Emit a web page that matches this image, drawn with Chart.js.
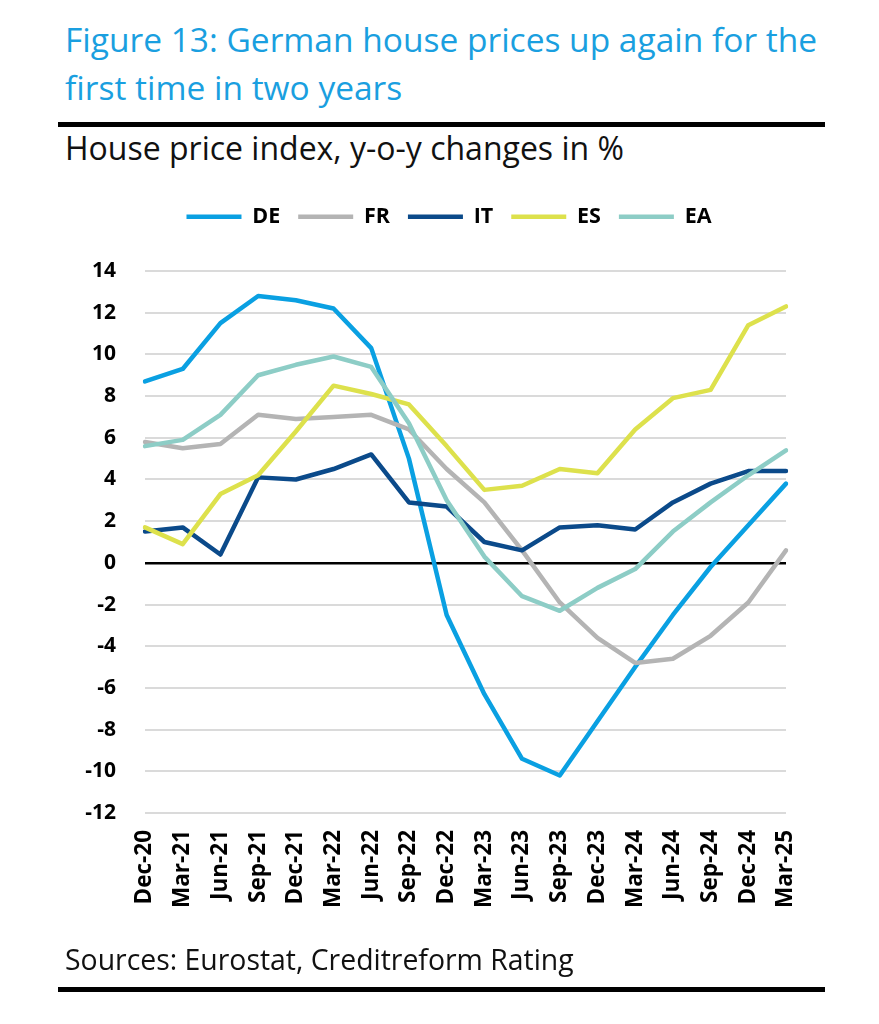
<!DOCTYPE html>
<html>
<head>
<meta charset="utf-8">
<script src="https://cdn.jsdelivr.net/npm/chart.js@4.4.1/dist/chart.umd.min.js"></script>
<style>
  html, body { margin: 0; padding: 0; background: #fff; }
  body { width: 879px; height: 1024px; position: relative; overflow: hidden; font-family: 'Open Sans', sans-serif; }
  .t { position: absolute; white-space: nowrap; }
  #title { left: 65px; top: 15px; font-size: 33.5px; line-height: 48px; color: #1a9fe0; }
  #subtitle { left: 65px; top: 130px; font-size: 32px; line-height: 36px; color: #111; }
  #source { left: 65px; top: 942px; font-size: 28.4px; line-height: 34px; color: #111; }
  .rule { position: absolute; left: 58px; width: 767px; height: 5px; background: #000; }
  #chartWrap { position: absolute; left: 0; top: 0; width: 879px; height: 1024px; }
</style>
</head>
<body>
<div id="title" class="t">Figure 13: German house prices up again for the<br>first time in two years</div>
<div class="rule" style="top:122px"></div>
<div id="subtitle" class="t">House price index, y-o-y changes in %</div>
<div id="chartWrap"><canvas id="c" width="879" height="1024"></canvas></div>
<div id="source" class="t">Sources: Eurostat, Creditreform Rating</div>
<div class="rule" style="top:987px"></div>
<script>
const categories = ['Dec-20','Mar-21','Jun-21','Sep-21','Dec-21','Mar-22','Jun-22','Sep-22','Dec-22','Mar-23','Jun-23','Sep-23','Dec-23','Mar-24','Jun-24','Sep-24','Dec-24','Mar-25'];
const seriesNames = ['DE','FR','IT','ES','EA'];
const DE = [8.7, 9.3, 11.5, 12.8, 12.6, 12.2, 10.3, 5.0, -2.5, -6.3, -9.4, -10.2, -7.6, -5.0, -2.5, -0.2, 1.8, 3.8];
const FR = [5.8, 5.5, 5.7, 7.1, 6.9, 7.0, 7.1, 6.4, 4.5, 2.9, 0.6, -1.9, -3.6, -4.8, -4.6, -3.5, -1.9, 0.6];
const IT = [1.5, 1.7, 0.4, 4.1, 4.0, 4.5, 5.2, 2.9, 2.7, 1.0, 0.6, 1.7, 1.8, 1.6, 2.9, 3.8, 4.4, 4.4];
const ES = [1.7, 0.9, 3.3, 4.2, 6.3, 8.5, 8.1, 7.6, 5.6, 3.5, 3.7, 4.5, 4.3, 6.4, 7.9, 8.3, 11.4, 12.3];
const EA = [5.6, 5.9, 7.1, 9.0, 9.5, 9.9, 9.4, 6.7, 3.0, 0.3, -1.6, -2.3, -1.2, -0.3, 1.5, 2.9, 4.2, 5.4];
const yTicks = [-12, -10, -8, -6, -4, -2, 0, 2, 4, 6, 8, 10, 12, 14];

const colors = ['#0aa0e2', '#b4b4b4', '#0b4a8a', '#dde14c', '#8dcdc6'];
const values = [DE, FR, IT, ES, EA];

const datasets = seriesNames.map((name, i) => ({
  label: name,
  data: values[i],
  borderColor: colors[i],
  backgroundColor: colors[i],
  borderWidth: 4.5,
  borderCapStyle: 'round',
  borderJoinStyle: 'round',
  pointRadius: 0,
  pointHoverRadius: 0,
  tension: 0,
  fill: false,
  order: seriesNames.length - i
}));

const legendTweak = {
  id: 'legendTweak',
  beforeInit(chart) {
    const origFit = chart.legend.fit;
    chart.legend.fit = function () {
      origFit.call(this);
      this.height = 83;
    };
  },
  afterLayout(chart) {
    chart.legend.left += 112;
  }
};

new Chart(document.getElementById('c'), {
  type: 'line',
  data: { labels: categories, datasets },
  plugins: [legendTweak],
  options: {
    responsive: false,
    animation: false,
    devicePixelRatio: 1,
    layout: { padding: { top: 188, left: 0, right: 93, bottom: 0 } },
    plugins: {
      legend: {
        position: 'top',
        align: 'center',
        labels: {
          usePointStyle: true,
          pointStyle: 'line',
          pointStyleWidth: 55,
          boxHeight: 21,
          padding: 18,
          color: '#000',
          font: { family: 'Open Sans', size: 21.5, weight: 'bold' },
          sort: (a, b) => a.datasetIndex - b.datasetIndex
        }
      },
      title: { display: false },
      tooltip: { enabled: false }
    },
    scales: {
      x: {
        offset: false,
        grid: { display: false, drawTicks: false },
        border: { display: false },
        ticks: {
          autoSkip: false,
          maxRotation: 90,
          minRotation: 90,
          padding: 17,
          color: '#000',
          font: { family: 'Open Sans', size: 22.5, weight: 'bold' }
        },
        afterFit(scale) { scale.height = 211; }
      },
      y: {
        min: -12,
        max: 14,
        afterBuildTicks(scale) { scale.ticks = yTicks.map(v => ({ value: v })); },
        grid: {
          drawTicks: false,
          color: ctx => (ctx.tick && ctx.tick.value === 0) ? '#000' : '#dadada',
          lineWidth: ctx => (ctx.tick && ctx.tick.value === 0) ? 2.5 : 2
        },
        border: { display: false },
        ticks: {
          padding: 29,
          color: '#000',
          font: { family: 'Open Sans', size: 21, weight: 'bold' }
        },
        afterFit(scale) { scale.width = 145; }
      }
    }
  }
});
</script>
</body>
</html>
